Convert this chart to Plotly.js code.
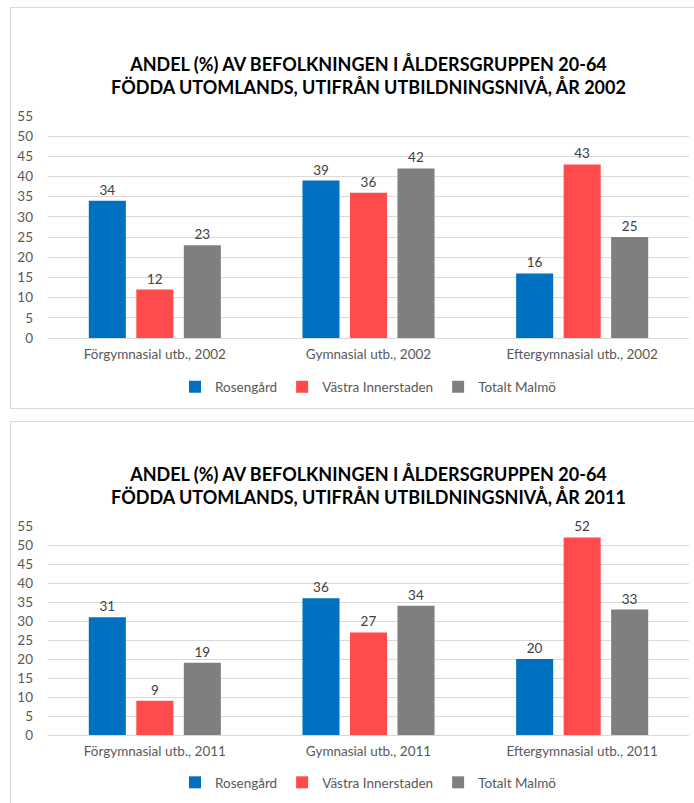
<!DOCTYPE html>
<html><head><meta charset="utf-8">
<script src="https://cdn.plot.ly/plotly-3.0.1.min.js"></script>
<style>
body{margin:0;background:#fff;width:694px;height:803px;overflow:hidden;position:relative;font-family:Lato,sans-serif;}
.box{position:absolute;border:1px solid #d9d9d9;background:#fff;}
.chart{position:absolute;left:0;width:694px;}
</style></head><body>
<div class="box" style="left:10px;top:7px;width:700px;height:400px;"></div>
<div class="box" style="left:10px;top:421px;width:700px;height:400px;"></div>
<div id="c1" class="chart" style="top:0px;height:410px;"></div>
<div id="c2" class="chart" style="top:410px;height:393px;"></div>
<script>
const series = ["Rosengård", "Västra Innerstaden", "Totalt Malmö"];
const colors = ["#0070C0", "#FF4B4B", "#7F7F7F"];
const categories2002 = ["Förgymnasial utb., 2002", "Gymnasial utb., 2002", "Eftergymnasial utb., 2002"];
const categories2011 = ["Förgymnasial utb., 2011", "Gymnasial utb., 2011", "Eftergymnasial utb., 2011"];
const rosengard2002 = [34, 39, 16];
const vastra2002 = [12, 36, 43];
const malmo2002 = [23, 42, 25];
const rosengard2011 = [31, 36, 20];
const vastra2011 = [9, 27, 52];
const malmo2011 = [19, 34, 33];
const yTicks = [0,5,10,15,20,25,30,35,40,45,50,55];
const title2002 = "ANDEL (%) AV BEFOLKNINGEN I ÅLDERSGRUPPEN 20-64<br>FÖDDA UTOMLANDS, UTIFRÅN UTBILDNINGSNIVÅ, ÅR 2002";
const title2011 = "ANDEL (%) AV BEFOLKNINGEN I ÅLDERSGRUPPEN 20-64<br>FÖDDA UTOMLANDS, UTIFRÅN UTBILDNINGSNIVÅ, ÅR 2011";

function makeTraces(cats, vals){
  return vals.map((v,i)=>({
    type:'bar', name:series[i], x:cats, y:v,
    marker:{color:colors[i]},
    text:v.map(String), textposition:'outside', cliponaxis:false,
    textfont:{family:'Lato, sans-serif', size:13.5, color:'#404040'},
    hoverinfo:'skip'
  }));
}
function makeLayout(title, H, t, b, titleY, legendOff){
  const plotH = H - t - b;
  return {
    width:694, height:H,
    margin:{l:48, r:5, t:t, b:b},
    paper_bgcolor:'rgba(0,0,0,0)', plot_bgcolor:'rgba(0,0,0,0)',
    title:{text:title, x:0.5, xanchor:'center', xref:'paper', yref:'container', y:1-titleY/H, yanchor:'middle',
      font:{family:'Lato, sans-serif', size:18, color:'#000', weight:'bold'}},
    barmode:'group', bargap:0.333, bargroupgap:0.22,
    showlegend:true,
    legend:{orientation:'h', x:0.5, xanchor:'center', y:-legendOff/plotH, yanchor:'middle',
      font:{family:'Lato, sans-serif', size:13.5, color:'#595959'}, itemwidth:30, traceorder:'normal'},
    xaxis:{showgrid:false, showline:false, zeroline:false, ticks:'', ticklabelstandoff:6,
      tickfont:{family:'Lato, sans-serif', size:13.5, color:'#595959'}},
    yaxis:{range:[0,55], tickvals:yTicks, showgrid:true, gridcolor:'#d9d9d9', gridwidth:1,
      zeroline:true, zerolinecolor:'#d9d9d9', zerolinewidth:1, showline:false, ticks:'',
      ticklabelstandoff:14,
      tickfont:{family:'Lato, sans-serif', size:13.5, color:'#595959'}, fixedrange:true}
  };
}
const cfg = {staticPlot:true, displayModeBar:false};
Plotly.newPlot('c1', makeTraces(categories2002,[rosengard2002,vastra2002,malmo2002]),
  makeLayout(title2002, 410, 116, 72, 71, 49), cfg);
Plotly.newPlot('c2', makeTraces(categories2011,[rosengard2011,vastra2011,malmo2011]),
  makeLayout(title2011, 393, 116, 66, 71, 48), cfg);
</script>
</body></html>
